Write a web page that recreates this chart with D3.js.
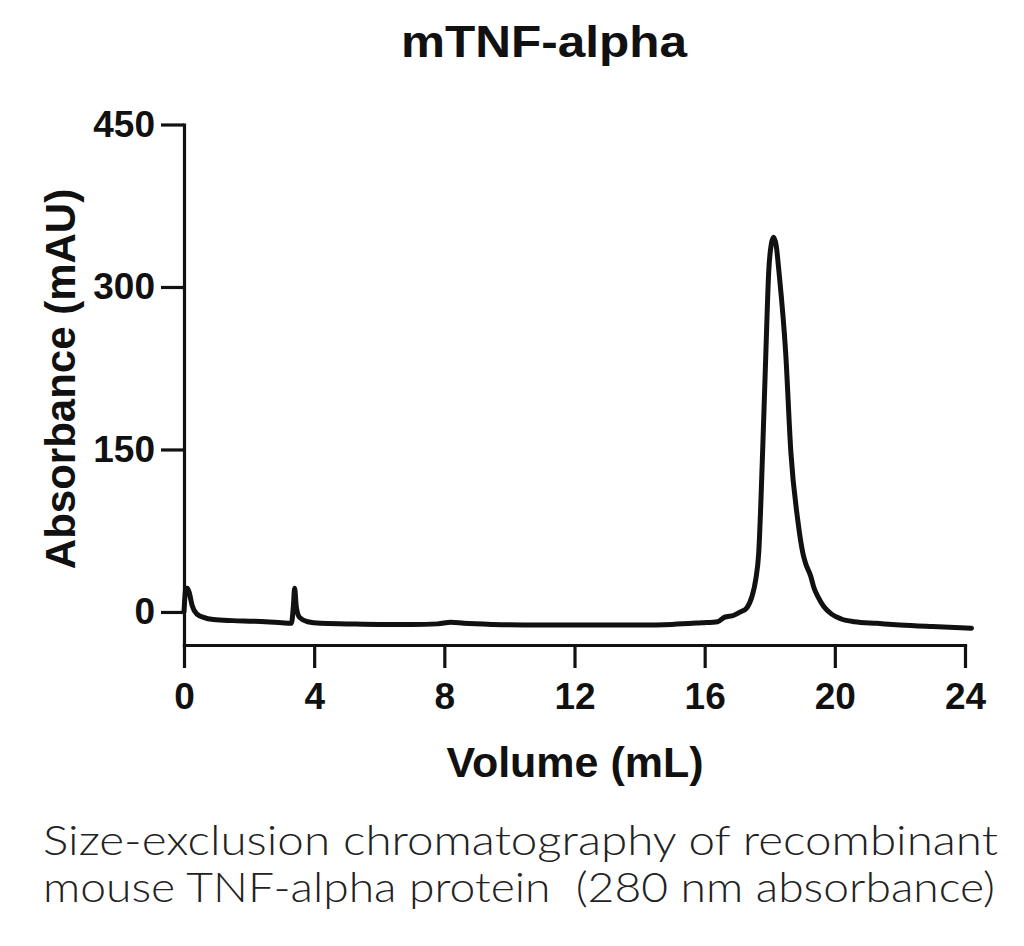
<!DOCTYPE html>
<html>
<head>
<meta charset="utf-8">
<script src="https://cdn.jsdelivr.net/npm/d3@7"></script>
<style>
  html, body { margin: 0; padding: 0; background: #fff; }
  svg { display: block; }
</style>
</head>
<body>
<div id="chart"></div>
<script>
// ---- data ----
const volume = [0.00, 0.06, 0.10, 0.16, 0.25, 0.40, 0.60, 0.90, 1.50, 2.00, 2.50, 3.00, 3.30, 3.36, 3.40, 3.45, 3.55, 3.80, 4.20, 5.00, 6.00, 7.00, 7.80, 8.20, 8.60, 9.50, 11.0, 12.0, 13.0, 14.0, 15.0, 15.9, 16.4, 16.6, 16.9, 17.1, 17.3, 17.45, 17.57, 17.66, 17.78, 17.88, 17.97, 18.05, 18.12, 18.20, 18.28, 18.49, 18.65, 18.86, 19.02, 19.10, 19.26, 19.35, 19.50, 19.66, 19.90, 20.20, 20.60, 21.30, 22.00, 23.00, 24.20];
const absorbance = [0, 22, 22, 18, 6, -2, -5, -7, -8, -8.5, -9, -10, -10.5, 5, 22, 5, -5, -9, -10.5, -11, -11.5, -11.5, -11, -9.5, -10.5, -11.5, -12, -12, -12, -12, -11.5, -10, -9, -5, -3, 0, 4, 14, 30, 54, 147, 239, 315, 340, 346, 338, 315, 239, 147, 85, 54, 45, 33, 23, 13, 5, -2, -6.5, -9, -10.5, -12, -13.5, -15];
const xTicks = [0, 4, 8, 12, 16, 20, 24];
const yTicks = [0, 150, 300, 450];
const titleText = "mTNF-alpha";
const xLabel = "Volume (mL)";
const yLabel = "Absorbance (mAU)";
const caption = ["Size-exclusion chromatography of recombinant", "mouse TNF-alpha protein  (280 nm absorbance)"];

// ---- layout ----
const W = 1024, H = 946;
const svg = d3.select("#chart").append("svg").attr("width", W).attr("height", H);

const x = d3.scaleLinear().domain([0, 24]).range([184, 965]);
const y = d3.scaleLinear().domain([-30.5, 450]).range([645, 124.5]);

const boldFont = "'Liberation Sans', Arial, sans-serif";

// title
svg.append("text")
  .attr("x", 401).attr("y", 57)
  .attr("textLength", 286)
  .attr("lengthAdjust", "spacingAndGlyphs")
  .style("font-family", boldFont).style("font-weight", "bold").style("font-size", "44px")
  .attr("fill", "#111")
  .text(titleText);

// axes
const yAxis = d3.axisLeft(y).tickValues(yTicks).tickSize(23).tickSizeOuter(0).tickPadding(6);
const gy = svg.append("g").attr("transform", "translate(184,0)").call(yAxis);

const xAxis = d3.axisBottom(x).tickValues(xTicks).tickSize(23).tickSizeOuter(0).tickPadding(15);
const gx = svg.append("g").attr("transform", "translate(0,645)").call(xAxis);

[gx, gy].forEach(g => {
  g.selectAll("path.domain").attr("stroke", "#111").attr("stroke-width", 3.2).attr("stroke-linecap", "square");
  g.selectAll(".tick line").attr("stroke", "#111").attr("stroke-width", 3.2);
  g.selectAll(".tick text")
    .attr("fill", "#111")
    .style("font-family", boldFont).style("font-weight", "bold").style("font-size", "37px");
});

// line
const line = d3.line()
  .x((d, i) => x(volume[i]))
  .y((d, i) => y(absorbance[i]))
  .curve(d3.curveMonotoneX);

svg.append("path")
  .datum(absorbance)
  .attr("d", line)
  .attr("fill", "none")
  .attr("stroke", "#111")
  .attr("stroke-width", 5)
  .attr("stroke-linejoin", "round")
  .attr("stroke-linecap", "round");

// axis labels
svg.append("text")
  .attr("x", 575).attr("y", 777)
  .attr("text-anchor", "middle")
  .style("font-family", boldFont).style("font-weight", "bold").style("font-size", "43px")
  .attr("fill", "#111")
  .text(xLabel);

svg.append("text")
  .attr("transform", "translate(75,379) rotate(-90)")
  .attr("text-anchor", "middle")
  .style("font-family", boldFont).style("font-weight", "bold").style("font-size", "42px")
  .attr("fill", "#111")
  .text(yLabel);

// caption
caption.forEach((t, i) => {
  svg.append("text")
    .attr("x", 43).attr("y", 855 + i * 47)
    .attr("textLength", i === 0 ? 955 : 952)
    .attr("lengthAdjust", "spacingAndGlyphs")
    .style("white-space", "pre")
    .style("font-family", "Lato, 'Open Sans', sans-serif").style("font-weight", "300").style("font-size", "42px")
    .attr("fill", "#222")
    .text(t);
});
</script>
</body>
</html>
